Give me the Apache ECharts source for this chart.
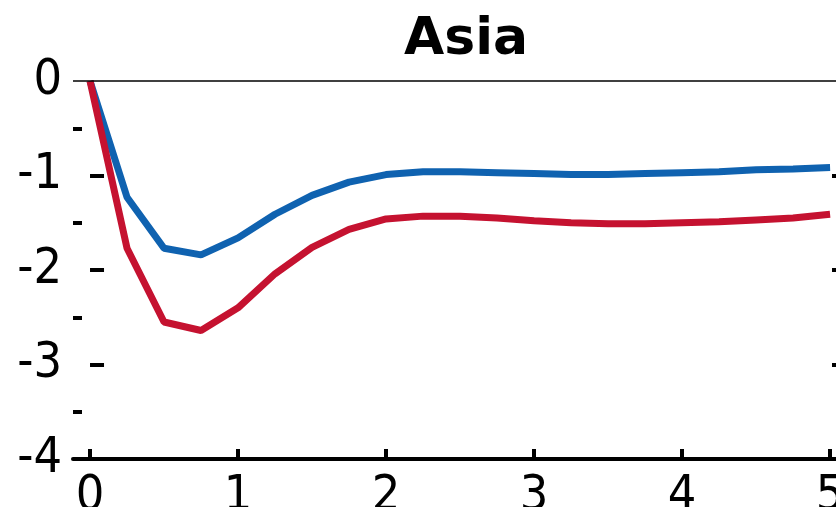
<!DOCTYPE html>
<html><head><meta charset="utf-8">
<script src="https://cdn.jsdelivr.net/npm/echarts@6/dist/echarts.min.js"></script>
<style>html,body{margin:0;padding:0;background:#fff}#c{width:836px;height:507px}</style>
</head><body><div id="c"></div>
<script>
var title = 'Asia';
var xValues = [0,0.25,0.5,0.75,1,1.25,1.5,1.75,2,2.25,2.5,2.75,3,3.25,3.5,3.75,4,4.25,4.5,4.75,5];
var blueValues = [0,-1.23,-1.77,-1.84,-1.66,-1.41,-1.21,-1.07,-0.99,-0.96,-0.96,-0.97,-0.98,-0.99,-0.99,-0.98,-0.97,-0.96,-0.94,-0.93,-0.915];
var redValues = [0,-1.77,-2.55,-2.64,-2.4,-2.04,-1.76,-1.57,-1.46,-1.43,-1.43,-1.45,-1.48,-1.5,-1.51,-1.51,-1.5,-1.49,-1.47,-1.45,-1.41];
var xTicks = [0,1,2,3,4,5];
var yMajorTicks = [0,-1,-2,-3,-4];
var yMinorTicks = [-0.5,-1.5,-2.5,-3.5];
var yRightTicks = [-1,-2,-3];

function pairs(xs, ys){ return xs.map(function(x,i){ return [x, ys[i]]; }); }

var font = '"Liberation Sans Narrow","DejaVu Sans Condensed","Liberation Sans",sans-serif';
var chart = echarts.init(document.getElementById('c'), null, {renderer:'canvas'});
chart.setOption({
  animation:false,
  title:{text:title,left:461,textAlign:'center',top:9,
    textStyle:{fontFamily:'"DejaVu Sans","Liberation Sans",Arial,sans-serif',fontWeight:'bold',fontSize:52,color:'#000'}},
  grid:{left:73,right:0,top:81,bottom:48,containLabel:false,outerBoundsMode:'none'},
  xAxis:{type:'value',min:-0.115,max:5.04,
    axisLine:{show:true,onZero:false,lineStyle:{color:'#000',width:4}},
    axisTick:{show:true,inside:true,length:10,customValues:xTicks,lineStyle:{color:'#000',width:4}},
    axisLabel:{customValues:xTicks,margin:13,fontFamily:font,fontSize:50,color:'#000'},
    splitLine:{show:false}},
  yAxis:[
    {type:'value',min:-4,max:0,position:'left',
      axisLine:{show:false},
      axisTick:{show:true,inside:true,length:14,customValues:[-1,-2,-3],lineStyle:{color:'#000',width:4}},
      axisLabel:{customValues:yMajorTicks,margin:11,fontFamily:font,fontSize:50,color:'#000'},
      splitLine:{show:false}},
    {type:'value',min:-4,max:0,position:'left',
      axisLine:{show:false},
      axisTick:{show:true,inside:true,length:9,customValues:yMinorTicks,lineStyle:{color:'#000',width:4}},
      axisLabel:{show:false},splitLine:{show:false}},
    {type:'value',min:-4,max:0,position:'right',
      axisLine:{show:false},
      axisTick:{show:true,inside:true,length:4,customValues:yRightTicks,lineStyle:{color:'#000',width:4}},
      axisLabel:{show:false},splitLine:{show:false}}
  ],
  series:[
    {type:'line',name:'zero',data:[],silent:true,
      markLine:{silent:true,symbol:'none',label:{show:false},
        lineStyle:{color:'#000',width:1.5,type:'solid'},data:[{yAxis:0}]}},
    {type:'line',name:'blue',data:pairs(xValues,blueValues),showSymbol:false,clip:false,
      lineStyle:{color:'#0f62b0',width:7},itemStyle:{color:'#0f62b0'}},
    {type:'line',name:'red',data:pairs(xValues,redValues),showSymbol:false,clip:false,
      lineStyle:{color:'#c51230',width:7},itemStyle:{color:'#c51230'}}
  ]
});
</script></body></html>
